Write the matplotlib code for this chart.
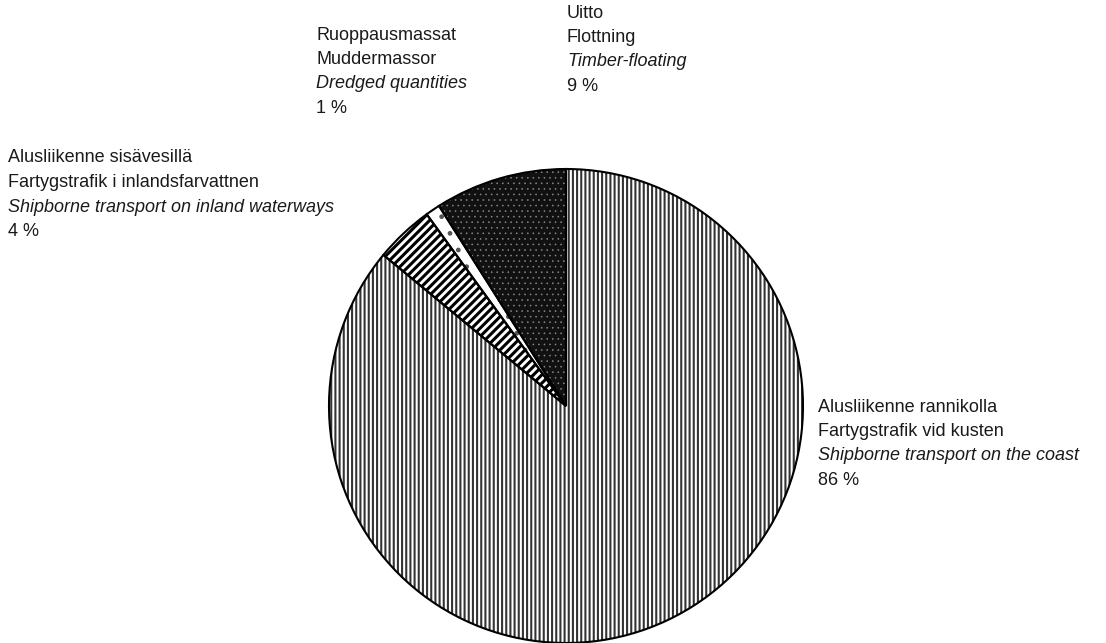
import numpy as np
import matplotlib
matplotlib.use('Agg')
from matplotlib import pyplot as plt

# shares of the waterway transport (percent)
names_fi = ['Alusliikenne rannikolla', 'Alusliikenne sisävesillä', 'Ruoppausmassat', 'Uitto']
names_sv = ['Fartygstrafik vid kusten', 'Fartygstrafik i inlandsfarvattnen', 'Muddermassor', 'Flottning']
names_en = ['Shipborne transport on the coast', 'Shipborne transport on inland waterways',
            'Dredged quantities', 'Timber-floating']
shares = [86, 4, 1, 9]

plt.rcParams['font.family'] = ['Liberation Sans Narrow', 'Liberation Sans', 'DejaVu Sans']

W, H = 1106, 643
fig = plt.figure(figsize=(W / 100, H / 100), dpi=100)
ax = fig.add_axes([0, 0, 1, 1])

cx, cy, r = 566, H - 406, 237
hatches = ['||||', '////', '.', '...']
hlw = [1.5, 2.2, 1.0, 0.4]
faces = ['white', 'white', 'white', '#111111']
hcols = ['#333333', 'black', '#555555', '#8a8a8a']

# fill + hatch (hatch colour comes from edgecolor)
wedges, _ = ax.pie(shares, startangle=90, counterclock=False, center=(cx, cy), radius=r,
                   frame=True)
for w, h, f, c, lw in zip(wedges, hatches, faces, hcols, hlw):
    w.set_facecolor(f)
    w.set_hatch(h)
    w.set_edgecolor(c)
    w.set_linewidth(0)
    try:
        w.set_hatch_linewidth(lw)
    except AttributeError:
        w._hatch_linewidth = lw
# outlines
ax.pie(shares, startangle=90, counterclock=False, center=(cx, cy), radius=r,
       frame=True, wedgeprops=dict(facecolor='none', edgecolor='black', linewidth=1.5))
ax.set_xlim(0, W)
ax.set_ylim(0, H)
ax.set_aspect('equal')
ax.axis('off')

# label anchors (left x, first line y from top)
lab_x = [818, 8, 316, 567]
lab_y = [407, 158, 35, 13]
step = 24.5
for i in range(len(shares)):
    lines = [(names_fi[i], 'normal'), (names_sv[i], 'normal'), (names_en[i], 'italic'),
             ('%d %%' % shares[i], 'normal')]
    for k, (t, st) in enumerate(lines):
        ax.text(lab_x[i], H - (lab_y[i] + k * step), t, fontsize=13, style=st,
                ha='left', va='center', color='#1a1a1a')

fig.savefig('out.png', dpi=100, facecolor='white')
